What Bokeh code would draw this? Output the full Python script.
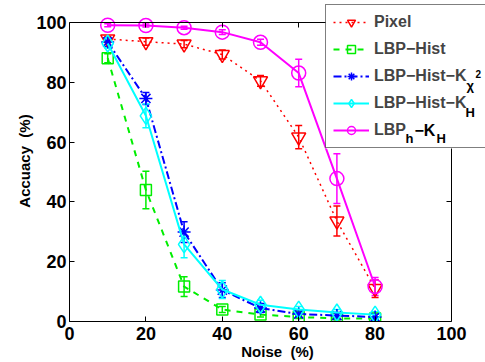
from bokeh.plotting import figure
from bokeh.models import (ColumnDataSource, Whisker, TeeHead, Legend, LegendItem,
                          LinearAxis, Range1d, FixedTicker, Label, BoxAnnotation)
from bokeh.embed import file_html
from bokeh.resources import INLINE

noise = [10, 20, 30, 40, 50, 60, 70, 80]
pixel = [94.5, 93.6, 92.8, 89.3, 80.5, 61.7, 33.6, 11.0]
pixel_err = [0.8, 1.2, 1.2, 1.5, 1.8, 3.9, 5.0, 3.0]
lbp_hist = [88.1, 44.0, 11.7, 4.0, 2.3, 1.5, 1.0, 1.0]
lbp_hist_err = [1.5, 6.3, 3.3, 1.0, 0.8, 0.5, 0.5, 0.5]
lbp_chi2 = [93.5, 74.6, 29.9, 10.5, 4.5, 2.5, 2.0, 1.5]
lbp_chi2_err = [1.5, 2.0, 3.5, 2.5, 1.5, 1.0, 1.0, 1.0]
lbp_kh = [93.0, 68.8, 25.8, 10.7, 5.6, 4.0, 3.0, 2.3]
lbp_kh_err = [1.5, 4.0, 4.5, 3.0, 1.5, 1.0, 1.0, 1.0]
lbph_kh = [99.1, 99.0, 98.3, 96.8, 93.4, 83.1, 47.8, 11.7]
lbph_kh_err = [0.5, 0.5, 0.5, 0.8, 1.0, 4.6, 8.3, 3.0]

ticks = [0, 20, 40, 60, 80, 100]
FONT = "Liberation Sans"

# frame spans to the canvas top/right so the legend can overlap the box edges;
# the box itself is drawn at x=100 / y=100
X_END = 100 * 416 / 382
Y_END = 100 * 320 / 298

p = figure(width=485, height=362, output_backend="svg", toolbar_location=None,
           x_range=Range1d(0, X_END), y_range=Range1d(0, Y_END),
           min_border_left=69, min_border_right=0, min_border_top=0, min_border_bottom=40)
p.grid.visible = False
p.outline_line_color = None
p.background_fill_color = "white"
p.border_fill_color = "white"

for ax in (p.xaxis[0], p.yaxis[0]):
    ax.ticker = FixedTicker(ticks=ticks)
    ax.bounds = (0, 100)
    ax.major_tick_in = 5
    ax.major_tick_out = 0
    ax.minor_tick_in = 0
    ax.minor_tick_out = 0
    ax.axis_line_color = "black"
    ax.major_label_text_font = FONT
    ax.major_label_text_font_style = "bold"
    ax.major_label_text_font_size = "18px"
    ax.major_label_text_color = "black"
    ax.axis_label_text_font = FONT
    ax.axis_label_text_font_style = "bold"
    ax.axis_label_text_font_size = "15px"
    ax.axis_label_text_color = "black"
    ax.axis_label_standoff = 0

p.xaxis[0].major_label_standoff = 5
p.yaxis[0].major_label_standoff = 3
p.xaxis[0].axis_label = "Noise\u00a0 (%)"
p.yaxis[0].axis_label = "Accuacy\u00a0 (%)"

for loc in ("above", "right"):
    a = LinearAxis(ticker=FixedTicker(ticks=ticks), major_tick_in=5, major_tick_out=0,
                   minor_tick_in=0, minor_tick_out=0, bounds=(0, 100), fixed_location=100,
                   major_label_overrides={t: "" for t in ticks},
                   axis_line_color="black")
    p.add_layout(a, loc)

series = [
    ("Pixel", pixel, pixel_err, "red", "dotted", 1.5, "inverted_triangle", 14),
    ("LBP\u2212Hist", lbp_hist, lbp_hist_err, "#00ee00", "dashed", 2, "square", 11),
    ("LBP\u2212Hist\u2212K", lbp_chi2, lbp_chi2_err, "blue", "8 3 2 3", 2, "asterisk", 13),
    ("LBP\u2212Hist\u2212K", lbp_kh, lbp_kh_err, "cyan", "solid", 2, "diamond", 17),
    ("LBP", lbph_kh, lbph_kh_err, "magenta", "solid", 2, "circle", 14),
]

items = []
for name, ys, err, color, dash, lw, marker, size in series:
    src = ColumnDataSource(dict(x=noise, y=ys,
                                lo=[v - e for v, e in zip(ys, err)],
                                hi=[v + e for v, e in zip(ys, err)]))
    w = Whisker(source=src, base="x", lower="lo", upper="hi", line_color=color, line_width=1.5,
                upper_head=TeeHead(size=7, line_color=color, line_width=1.5),
                lower_head=TeeHead(size=7, line_color=color, line_width=1.5))
    p.add_layout(w)
    lr = p.line("x", "y", source=src, line_color=color, line_width=lw, line_dash=dash)
    sr = p.scatter("x", "y", source=src, marker=marker, size=size, line_color=color,
                   line_width=1.5, fill_color=None)
    items.append(LegendItem(label=name, renderers=[lr, sr]))

# white panel behind the legend (legend itself is transparent so the
# subscript labels drawn on this panel stay visible)
p.add_layout(BoxAnnotation(left=256, right=420, bottom=173, top=315,
                           left_units="screen", right_units="screen",
                           bottom_units="screen", top_units="screen",
                           fill_color="white", fill_alpha=1, line_color=None,
                           level="overlay"))

def sub(text, x, y, size):
    p.add_layout(Label(x=x, y=y, x_units="screen", y_units="screen", text=text,
                       text_font=FONT, text_font_style="bold", text_font_size=size,
                       text_baseline="middle", text_color="black", level="overlay"))

sub("\u03c7", 397, 236, "13px")
sub("2", 406, 248, "10px")
sub("H", 396, 209, "13px")
sub("h", 336, 183, "13px")
sub("\u2212K", 345, 191, "16px")
sub("H", 367, 183, "13px")

legend = Legend(items=items, location=(256, 173), border_line_color="black",
                border_line_width=1, background_fill_alpha=0,
                label_text_font=FONT, label_text_font_style="bold", label_text_font_size="16px",
                glyph_width=36, glyph_height=20, label_height=20, label_width=130,
                label_standoff=5, padding=7, spacing=7, margin=0)
p.add_layout(legend)

open("out.html", "w").write(file_html(p, INLINE))
